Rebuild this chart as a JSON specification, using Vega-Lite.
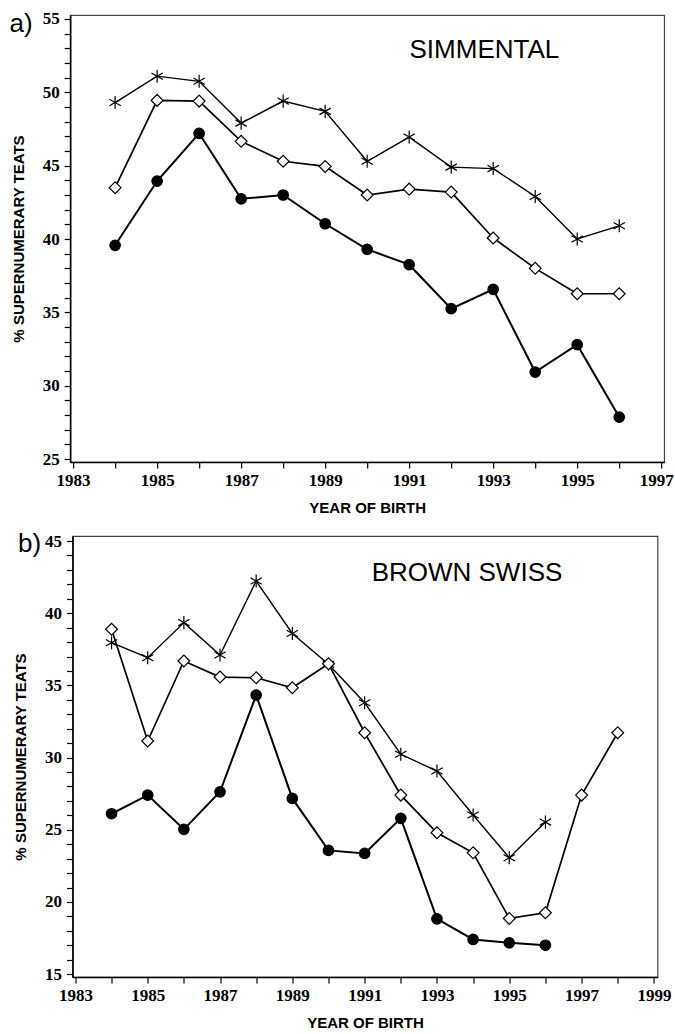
{
  "$schema": "https://vega.github.io/schema/vega-lite/v6.json",
  "padding": {"left": 8, "top": 9, "right": 0, "bottom": 5},
  "background": "white",
  "spacing": 14,
  "center": true,
  "config": {
    "view": {"stroke": "#444", "strokeWidth": 1.2},
    "axis": {
      "domainColor": "black", "domainWidth": 1.6,
      "tickColor": "black", "tickWidth": 1.2, "tickSize": 6,
      "labelFont": "Liberation Sans Narrow", "labelFontWeight": "bold", "labelFontSize": 17, "labelColor": "black",
      "titleFont": "Liberation Sans", "titleFontWeight": "bold", "titleFontSize": 15, "titleColor": "black",
      "grid": false, "labelOverlap": false, "labelFlush": false
    }
  },
  "datasets": {
    "series": [
      {"panel": "a", "series": "star", "year": 1984, "value": 49.3},
      {"panel": "a", "series": "star", "year": 1985, "value": 51.1},
      {"panel": "a", "series": "star", "year": 1986, "value": 50.75},
      {"panel": "a", "series": "star", "year": 1987, "value": 47.9},
      {"panel": "a", "series": "star", "year": 1988, "value": 49.4},
      {"panel": "a", "series": "star", "year": 1989, "value": 48.7},
      {"panel": "a", "series": "star", "year": 1990, "value": 45.3},
      {"panel": "a", "series": "star", "year": 1991, "value": 46.95},
      {"panel": "a", "series": "star", "year": 1992, "value": 44.9},
      {"panel": "a", "series": "star", "year": 1993, "value": 44.8},
      {"panel": "a", "series": "star", "year": 1994, "value": 42.9},
      {"panel": "a", "series": "star", "year": 1995, "value": 40.0},
      {"panel": "a", "series": "star", "year": 1996, "value": 40.9},
      {"panel": "a", "series": "diamond", "year": 1984, "value": 43.5},
      {"panel": "a", "series": "diamond", "year": 1985, "value": 49.45},
      {"panel": "a", "series": "diamond", "year": 1986, "value": 49.4},
      {"panel": "a", "series": "diamond", "year": 1987, "value": 46.66},
      {"panel": "a", "series": "diamond", "year": 1988, "value": 45.3},
      {"panel": "a", "series": "diamond", "year": 1989, "value": 44.95},
      {"panel": "a", "series": "diamond", "year": 1990, "value": 43.0},
      {"panel": "a", "series": "diamond", "year": 1991, "value": 43.4},
      {"panel": "a", "series": "diamond", "year": 1992, "value": 43.2},
      {"panel": "a", "series": "diamond", "year": 1993, "value": 40.07},
      {"panel": "a", "series": "diamond", "year": 1994, "value": 38.0},
      {"panel": "a", "series": "diamond", "year": 1995, "value": 36.27},
      {"panel": "a", "series": "diamond", "year": 1996, "value": 36.27},
      {"panel": "a", "series": "circle", "year": 1984, "value": 39.57},
      {"panel": "a", "series": "circle", "year": 1985, "value": 43.95},
      {"panel": "a", "series": "circle", "year": 1986, "value": 47.2},
      {"panel": "a", "series": "circle", "year": 1987, "value": 42.74},
      {"panel": "a", "series": "circle", "year": 1988, "value": 43.0},
      {"panel": "a", "series": "circle", "year": 1989, "value": 41.04},
      {"panel": "a", "series": "circle", "year": 1990, "value": 39.3},
      {"panel": "a", "series": "circle", "year": 1991, "value": 38.25},
      {"panel": "a", "series": "circle", "year": 1992, "value": 35.25},
      {"panel": "a", "series": "circle", "year": 1993, "value": 36.57},
      {"panel": "a", "series": "circle", "year": 1994, "value": 30.93},
      {"panel": "a", "series": "circle", "year": 1995, "value": 32.8},
      {"panel": "a", "series": "circle", "year": 1996, "value": 27.86},
      {"panel": "b", "series": "star", "year": 1984, "value": 37.96},
      {"panel": "b", "series": "star", "year": 1985, "value": 36.92},
      {"panel": "b", "series": "star", "year": 1986, "value": 39.35},
      {"panel": "b", "series": "star", "year": 1987, "value": 37.1},
      {"panel": "b", "series": "star", "year": 1988, "value": 42.23},
      {"panel": "b", "series": "star", "year": 1989, "value": 38.6},
      {"panel": "b", "series": "star", "year": 1990, "value": 36.46},
      {"panel": "b", "series": "star", "year": 1991, "value": 33.8},
      {"panel": "b", "series": "star", "year": 1992, "value": 30.23},
      {"panel": "b", "series": "star", "year": 1993, "value": 29.07},
      {"panel": "b", "series": "star", "year": 1994, "value": 26.02},
      {"panel": "b", "series": "star", "year": 1995, "value": 23.06},
      {"panel": "b", "series": "star", "year": 1996, "value": 25.53},
      {"panel": "b", "series": "diamond", "year": 1984, "value": 38.89},
      {"panel": "b", "series": "diamond", "year": 1985, "value": 31.15},
      {"panel": "b", "series": "diamond", "year": 1986, "value": 36.69},
      {"panel": "b", "series": "diamond", "year": 1987, "value": 35.58},
      {"panel": "b", "series": "diamond", "year": 1988, "value": 35.53},
      {"panel": "b", "series": "diamond", "year": 1989, "value": 34.84},
      {"panel": "b", "series": "diamond", "year": 1990, "value": 36.5},
      {"panel": "b", "series": "diamond", "year": 1991, "value": 31.72},
      {"panel": "b", "series": "diamond", "year": 1992, "value": 27.4},
      {"panel": "b", "series": "diamond", "year": 1993, "value": 24.79},
      {"panel": "b", "series": "diamond", "year": 1994, "value": 23.4},
      {"panel": "b", "series": "diamond", "year": 1995, "value": 18.86},
      {"panel": "b", "series": "diamond", "year": 1996, "value": 19.25},
      {"panel": "b", "series": "diamond", "year": 1997, "value": 27.4},
      {"panel": "b", "series": "diamond", "year": 1998, "value": 31.72},
      {"panel": "b", "series": "circle", "year": 1984, "value": 26.11},
      {"panel": "b", "series": "circle", "year": 1985, "value": 27.4},
      {"panel": "b", "series": "circle", "year": 1986, "value": 25.03},
      {"panel": "b", "series": "circle", "year": 1987, "value": 27.63},
      {"panel": "b", "series": "circle", "year": 1988, "value": 34.33},
      {"panel": "b", "series": "circle", "year": 1989, "value": 27.17},
      {"panel": "b", "series": "circle", "year": 1990, "value": 23.57},
      {"panel": "b", "series": "circle", "year": 1991, "value": 23.36},
      {"panel": "b", "series": "circle", "year": 1992, "value": 25.79},
      {"panel": "b", "series": "circle", "year": 1993, "value": 18.83},
      {"panel": "b", "series": "circle", "year": 1994, "value": 17.4},
      {"panel": "b", "series": "circle", "year": 1995, "value": 17.17},
      {"panel": "b", "series": "circle", "year": 1996, "value": 17.0}
    ],
    "labelsA": [
      {"year": 1992.79, "value": 52.88, "label": "SIMMENTAL", "kind": "title"},
      {"year": 1981.76, "value": 54.65, "label": "a)", "kind": "panel"}
    ],
    "labelsB": [
      {"year": 1993.83, "value": 42.79, "label": "BROWN SWISS", "kind": "title"},
      {"year": 1981.73, "value": 44.8, "label": "b)", "kind": "panel"}
    ]
  },
  "vconcat": [
    {
      "width": 594,
      "height": 447,
      "encoding": {
        "x": {"field": "year", "type": "quantitative",
          "scale": {"domain": [1982.93, 1997.07], "nice": false, "zero": false},
          "axis": {"title": "YEAR OF BIRTH", "values": [1983,1984,1985,1986,1987,1988,1989,1990,1991,1992,1993,1994,1995,1996,1997],
            "format": "d", "labelExpr": "datum.value % 2 === 1 ? datum.label : ''", "labelPadding": 4, "titlePadding": 12,
            "labelAlign": {"condition": {"test": "datum.value === 1997", "value": "right"}, "value": "center"},
            "labelOffset": {"condition": {"test": "datum.value === 1997", "value": 12}, "value": 0}}},
        "y": {"field": "value", "type": "quantitative",
          "scale": {"domain": [24.8, 55.27], "nice": false, "zero": false},
          "axis": {"title": "% SUPERNUMERARY TEATS", "values": [25,26,27,28,29,30,31,32,33,34,35,36,37,38,39,40,41,42,43,44,45,46,47,48,49,50,51,52,53,54,55],
            "labelExpr": "datum.value % 5 === 0 ? datum.label : ''", "labelPadding": 5, "titlePadding": 16}}
      },
      "layer": [
        {
          "data": {"name": "series"},
          "transform": [{"filter": "datum.panel === 'a'"}],
          "mark": {"type": "line", "color": "black"},
          "encoding": {
            "detail": {"field": "series"},
            "strokeWidth": {"field": "series", "type": "nominal", "scale": {"domain": ["star", "diamond", "circle"], "range": [1.4, 2, 2.6]}, "legend": null}
          }
        },
        {
          "data": {"name": "series"},
          "transform": [{"filter": "datum.panel === 'a'"}],
          "mark": {"type": "point", "stroke": "black", "strokeWidth": 1.2, "opacity": 1},
          "encoding": {
            "shape": {"field": "series", "type": "nominal", "scale": {"domain": ["star", "diamond", "circle"], "range": ["M0,-1L0,1M-0.87,-0.5L0.87,0.5M-0.87,0.5L0.87,-0.5", "diamond", "circle"]}, "legend": null},
            "fill": {"field": "series", "type": "nominal", "scale": {"domain": ["star", "diamond", "circle"], "range": ["transparent", "white", "black"]}, "legend": null},
            "size": {"field": "series", "type": "nominal", "scale": {"domain": ["star", "diamond", "circle"], "range": [170, 110, 125]}, "legend": null}
          }
        },
        {
          "data": {"name": "labelsA"},
          "transform": [{"filter": "datum.kind === 'title'"}],
          "mark": {"type": "text", "font": "Liberation Sans", "fontSize": 26, "color": "black", "align": "center", "baseline": "middle"},
          "encoding": {"text": {"field": "label"}}
        },
        {
          "data": {"name": "labelsA"},
          "transform": [{"filter": "datum.kind === 'panel'"}],
          "mark": {"type": "text", "font": "Liberation Sans", "fontSize": 26, "color": "black", "align": "center", "baseline": "middle"},
          "encoding": {"text": {"field": "label"}}
        }
      ]
    },
    {
      "width": 585,
      "height": 441,
      "encoding": {
        "x": {"field": "year", "type": "quantitative",
          "scale": {"domain": [1982.92, 1999.1], "nice": false, "zero": false},
          "axis": {"title": "YEAR OF BIRTH", "values": [1983,1984,1985,1986,1987,1988,1989,1990,1991,1992,1993,1994,1995,1996,1997,1998,1999],
            "format": "d", "labelExpr": "datum.value % 2 === 1 ? datum.label : ''", "labelPadding": 4, "titlePadding": 12}},
        "y": {"field": "value", "type": "quantitative",
          "scale": {"domain": [14.8, 45.35], "nice": false, "zero": false},
          "axis": {"title": "% SUPERNUMERARY TEATS", "values": [15,16,17,18,19,20,21,22,23,24,25,26,27,28,29,30,31,32,33,34,35,36,37,38,39,40,41,42,43,44,45],
            "labelExpr": "datum.value % 5 === 0 ? datum.label : ''", "labelPadding": 5, "titlePadding": 16}}
      },
      "layer": [
        {
          "data": {"name": "series"},
          "transform": [{"filter": "datum.panel === 'b'"}],
          "mark": {"type": "line", "color": "black"},
          "encoding": {
            "detail": {"field": "series"},
            "strokeWidth": {"field": "series", "type": "nominal", "scale": {"domain": ["star", "diamond", "circle"], "range": [1.4, 2, 2.6]}, "legend": null}
          }
        },
        {
          "data": {"name": "series"},
          "transform": [{"filter": "datum.panel === 'b'"}],
          "mark": {"type": "point", "stroke": "black", "strokeWidth": 1.2, "opacity": 1},
          "encoding": {
            "shape": {"field": "series", "type": "nominal", "scale": {"domain": ["star", "diamond", "circle"], "range": ["M0,-1L0,1M-0.87,-0.5L0.87,0.5M-0.87,0.5L0.87,-0.5", "diamond", "circle"]}, "legend": null},
            "fill": {"field": "series", "type": "nominal", "scale": {"domain": ["star", "diamond", "circle"], "range": ["transparent", "white", "black"]}, "legend": null},
            "size": {"field": "series", "type": "nominal", "scale": {"domain": ["star", "diamond", "circle"], "range": [170, 110, 125]}, "legend": null}
          }
        },
        {
          "data": {"name": "labelsB"},
          "transform": [{"filter": "datum.kind === 'title'"}],
          "mark": {"type": "text", "font": "Liberation Sans", "fontSize": 26, "color": "black", "align": "center", "baseline": "middle"},
          "encoding": {"text": {"field": "label"}}
        },
        {
          "data": {"name": "labelsB"},
          "transform": [{"filter": "datum.kind === 'panel'"}],
          "mark": {"type": "text", "font": "Liberation Sans", "fontSize": 26, "color": "black", "align": "center", "baseline": "middle"},
          "encoding": {"text": {"field": "label"}}
        }
      ]
    }
  ],
  "resolve": {"scale": {"x": "independent", "y": "independent", "shape": "independent", "fill": "independent", "size": "independent", "strokeWidth": "independent"}}
}
